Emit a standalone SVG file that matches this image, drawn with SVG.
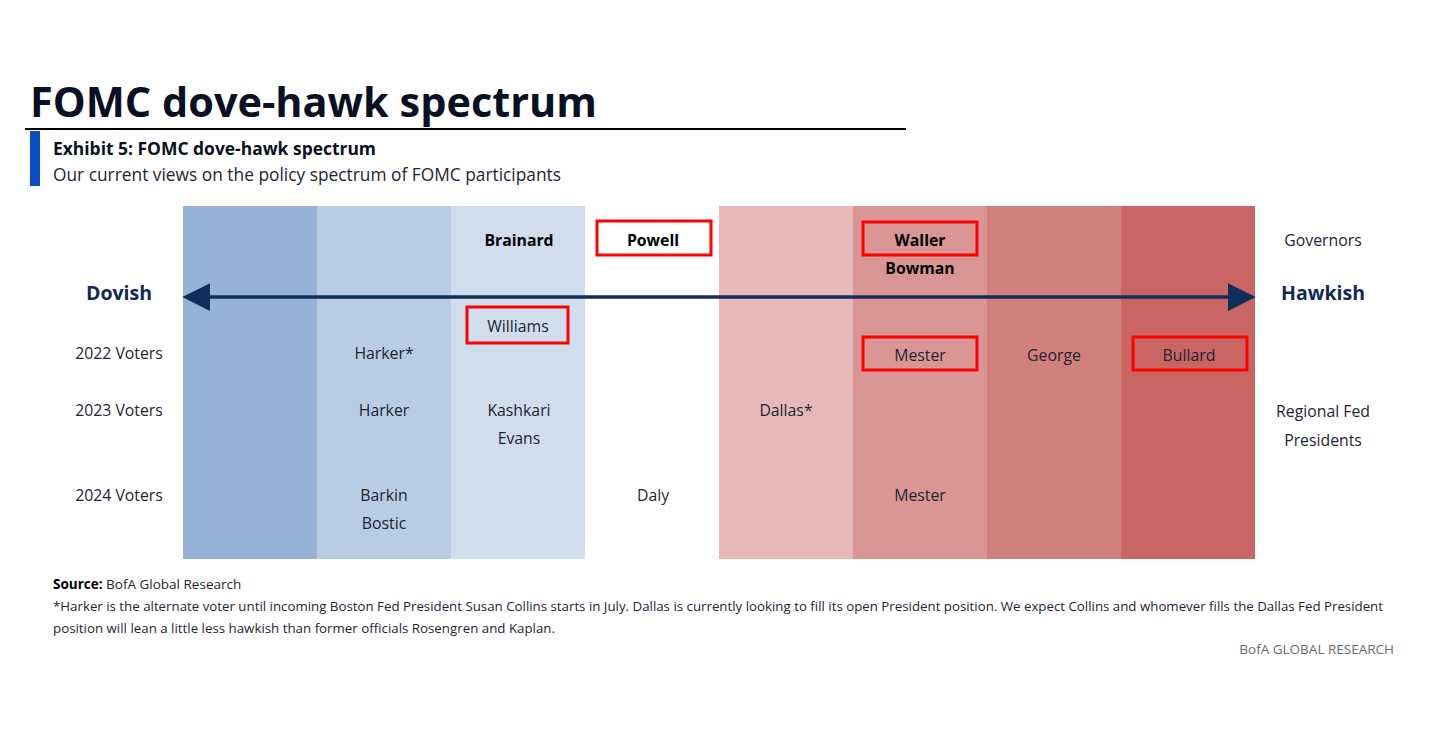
<svg xmlns="http://www.w3.org/2000/svg" width="1436" height="756" viewBox="0 0 1436 756">
<defs>
<style>
text{font-family:"Open Sans","Noto Sans","Liberation Sans",sans-serif;fill:#1f2433}
.lbl{font-size:15.8px;text-anchor:middle}
.gov{font-size:15.8px;font-weight:bold;text-anchor:middle;fill:#000}
.side{font-size:19.5px;font-weight:bold;text-anchor:middle;fill:#0f2a55}
.box{fill:none;stroke:#ff0000;stroke-width:3}
.foot{font-size:13.5px}
</style>
<marker id="ah" viewBox="0 0 10 10" refX="0" refY="5" markerWidth="7.5" markerHeight="7.5" orient="auto-start-reverse" markerUnits="strokeWidth">
<path d="M0,0 L10,5 L0,10 z" fill="#0f2e5a"/>
</marker>
</defs>
<rect width="1436" height="756" fill="#fff"/>
<text x="30" y="117" style="font-size:41px;font-weight:bold;fill:#0a1023" textLength="567" lengthAdjust="spacingAndGlyphs">FOMC dove-hawk spectrum</text>
<line x1="25" y1="129" x2="906" y2="129" stroke="#000" stroke-width="2"/>
<rect x="30" y="131" width="10" height="55" fill="#0a50c0"/>
<text x="53" y="155" style="font-size:18.5px;font-weight:bold;fill:#0a1023" textLength="323" lengthAdjust="spacingAndGlyphs">Exhibit 5: FOMC dove-hawk spectrum</text>
<text x="53" y="181" style="font-size:18.5px" textLength="508" lengthAdjust="spacingAndGlyphs">Our current views on the policy spectrum of FOMC participants</text>
<g id="bands">
<rect x="183" y="206" width="134" height="353" fill="#95b3d7"/>
<rect x="317" y="206" width="134" height="353" fill="#b8cce4"/>
<rect x="451" y="206" width="134" height="353" fill="#d0dded"/>
<rect x="719" y="206" width="134" height="353" fill="#e6b9b8"/>
<rect x="853" y="206" width="134" height="353" fill="#d99694"/>
<rect x="987" y="206" width="134" height="353" fill="#d2807d"/>
<rect x="1121" y="206" width="134" height="353" fill="#c96562"/>
</g>
<g id="connectors">
<line x1="210" y1="297" x2="1228" y2="297" stroke="#0f2e5a" stroke-width="3.7" marker-start="url(#ah)" marker-end="url(#ah)"/>
</g>
<g id="side-labels">
<text class="side" x="119" y="300">Dovish</text>
<text class="side" x="1323" y="300">Hawkish</text>
<text class="lbl" x="1323" y="246">Governors</text>
<text class="lbl" x="119" y="359">2022 Voters</text>
<text class="lbl" x="119" y="416">2023 Voters</text>
<text class="lbl" x="119" y="501">2024 Voters</text>
<text class="lbl" x="1323" y="417">Regional Fed</text>
<text class="lbl" x="1323" y="446">Presidents</text>
</g>
<g id="node-brainard"><text class="gov" x="519" y="246">Brainard</text></g>
<g id="node-powell"><rect class="box" x="597" y="221" width="114" height="34"/><text class="gov" x="653" y="246">Powell</text></g>
<g id="node-waller"><rect class="box" x="863" y="222" width="114" height="33"/><text class="gov" x="920" y="246">Waller</text></g>
<g id="node-bowman"><text class="gov" x="920" y="274">Bowman</text></g>
<g id="node-williams"><rect class="box" x="467" y="307" width="101" height="36"/><text class="lbl" x="518" y="332">Williams</text></g>
<g id="node-harker22"><text class="lbl" x="384" y="359">Harker*</text></g>
<g id="node-mester22"><rect class="box" x="863" y="337" width="114" height="33"/><text class="lbl" x="920" y="361">Mester</text></g>
<g id="node-george"><text class="lbl" x="1054" y="361">George</text></g>
<g id="node-bullard"><rect class="box" x="1133" y="337" width="114" height="33"/><text class="lbl" x="1189" y="361">Bullard</text></g>
<g id="node-harker23"><text class="lbl" x="384" y="416">Harker</text></g>
<g id="node-kashkari"><text class="lbl" x="519" y="416">Kashkari</text><text class="lbl" x="519" y="444">Evans</text></g>
<g id="node-dallas"><text class="lbl" x="786" y="416">Dallas*</text></g>
<g id="node-barkin"><text class="lbl" x="384" y="501">Barkin</text><text class="lbl" x="384" y="529">Bostic</text></g>
<g id="node-daly"><text class="lbl" x="653" y="501">Daly</text></g>
<g id="node-mester24"><text class="lbl" x="920" y="501">Mester</text></g>
<text class="foot" x="53" y="589"><tspan font-weight="bold" fill="#000">Source:</tspan> BofA Global Research</text>
<text class="foot" x="53" y="611" textLength="1330" lengthAdjust="spacingAndGlyphs">*Harker is the alternate voter until incoming Boston Fed President Susan Collins starts in July. Dallas is currently looking to fill its open President position. We expect Collins and whomever fills the Dallas Fed President</text>
<text class="foot" x="53" y="633" textLength="502" lengthAdjust="spacingAndGlyphs">position will lean a little less hawkish than former officials Rosengren and Kaplan.</text>
<text x="1394" y="654" style="font-size:13.5px;fill:#6b6b6b;text-anchor:end">BofA GLOBAL RESEARCH</text>
</svg>
